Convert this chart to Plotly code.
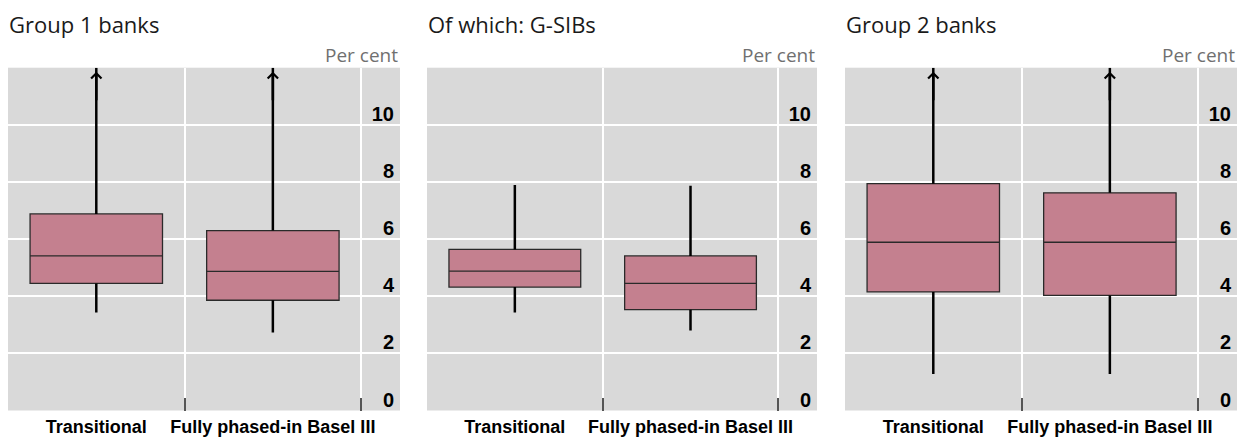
import plotly.graph_objects as go

# ---------------- data ----------------
categories = ["Transitional", "Fully phased-in Basel III"]
panel_titles = ["Group 1 banks", "Of which: G-SIBs", "Group 2 banks"]
y_tick_values = [0, 2, 4, 6, 8, 10]
unit_label = "Per cent"

# None = upper whisker runs beyond the chart scale (shown with an arrow)
g1_lower = [3.43, 2.73]
g1_q1 = [4.45, 3.86]
g1_median = [5.41, 4.87]
g1_q3 = [6.88, 6.30]
g1_upper = [None, None]

gsib_lower = [3.43, 2.80]
gsib_q1 = [4.32, 3.53]
gsib_median = [4.88, 4.45]
gsib_q3 = [5.64, 5.41]
gsib_upper = [7.89, 7.87]

g2_lower = [1.28, 1.28]
g2_q1 = [4.15, 4.03]
g2_median = [5.89, 5.89]
g2_q3 = [7.94, 7.62]
g2_upper = [None, None]

panels = [
    (g1_lower, g1_q1, g1_median, g1_q3, g1_upper),
    (gsib_lower, gsib_q1, gsib_median, gsib_q3, gsib_upper),
    (g2_lower, g2_q1, g2_median, g2_q3, g2_upper),
]

# ---------------- styling / layout ----------------
W, H = 1250, 441
OFF = 8  # page body margin
Y_MAX = 12
BOX_FILL = "#C4808F"
BOX_LINE = "#2a2a2a"
BG = "#D9D9D9"
panel_px = [(8 - OFF, 400 - OFF), (427 - OFF, 817 - OFF), (845 - OFF, 1237 - OFF)]
plot_top_px, plot_bottom_px = 67.7 - OFF, 410.5 - OFF
y_dom = [(H - plot_bottom_px) / H, (H - plot_top_px) / H]
X_FONT = dict(family="Liberation Sans, Arial", size=18, color="black",
              weight="bold")
Y_FONT = dict(family="Liberation Sans, Arial", size=20, color="black",
              weight="bold")

fig = go.Figure()
annotations = []

for i, (lo, q1, med, q3, up) in enumerate(panels):
    n = "" if i == 0 else str(i + 1)
    xa, ya = "x" + n, "y" + n
    # box body
    fig.add_trace(go.Box(
        x=categories, q1=q1, median=med, q3=q3,
        lowerfence=q1, upperfence=q3,
        width=0.75, whiskerwidth=0,
        fillcolor=BOX_FILL, line=dict(color=BOX_LINE, width=1.3),
        boxpoints=False, xaxis=xa, yaxis=ya, showlegend=False,
        hoverinfo="skip",
    ))
    # whiskers
    wx, wy = [], []
    for c, l, a, b, u in zip(categories, lo, q1, q3, up):
        top = u if u is not None else Y_MAX
        wx += [c, c, None, c, c, None]
        wy += [l, a, None, b, top, None]
    fig.add_trace(go.Scatter(
        x=wx, y=wy, mode="lines", line=dict(color="black", width=2.5),
        xaxis=xa, yaxis=ya, showlegend=False, hoverinfo="skip",
    ))
    # arrows for off-scale whiskers
    for c, u in zip(categories, up):
        if u is None:
            annotations.append(dict(
                x=c, y=Y_MAX - 0.14, xref=xa, yref=ya, ax=0, ay=30,
                text="", showarrow=True, arrowhead=4, arrowsize=0.8,
                arrowwidth=2.5, arrowcolor="black", standoff=0,
            ))

    x0, x1 = panel_px[i]
    dom = [x0 / W, x1 / W]
    xkey = "xaxis" + n
    ykey = "yaxis" + n
    fig.layout[xkey] = dict(
        domain=dom, anchor=ya, type="category",
        categoryorder="array", categoryarray=categories,
        range=[-0.5, 1.72], tickson="boundaries",
        showgrid=True, gridcolor="white", gridwidth=1.5,
        ticks="inside", ticklen=13, tickwidth=1.5, tickcolor="#555555",
        showline=False, zeroline=False, tickangle=0, automargin=False,
        ticklabelstandoff=3,
        tickfont=X_FONT, fixedrange=True,
    )
    fig.layout[ykey] = dict(
        domain=y_dom, anchor=xa, side="right", range=[0, Y_MAX],
        tickvals=y_tick_values, ticktext=[str(v) for v in y_tick_values],
        ticklabelposition="inside top", automargin=False,
        ticklabelstandoff=3, ticklabelshift=3,
        showgrid=True, gridcolor="white", gridwidth=1.5,
        ticks="", showline=False, zeroline=False,
        tickfont=Y_FONT, fixedrange=True,
    )
    # small ticks on the left edge
    fig.layout["yaxis" + str(i + 4)] = dict(
        domain=y_dom, anchor=xa, overlaying=ya, side="left", range=[0, Y_MAX],
        tickvals=y_tick_values[1:], showticklabels=False, showgrid=False,
        ticks="outside", ticklen=2, tickwidth=1, tickcolor="#333333",
        showline=False, zeroline=False, fixedrange=True, automargin=False,
    )
    # panel title
    annotations.append(dict(
        x=x0 / W, y=1.0, xref="paper", yref="paper",
        xanchor="left", yanchor="top", showarrow=False,
        text=panel_titles[i], borderpad=0,
        font=dict(family="Open Sans", size=22, color="#1a1a1a"),
    ))
    # unit label
    annotations.append(dict(
        x=x1 / W, y=1 - (55 - OFF) / H, xref="paper", yref="paper",
        xanchor="right", yanchor="middle", showarrow=False,
        text=unit_label,
        font=dict(family="Open Sans", size=19, color="#707070"),
    ))

fig.update_layout(
    width=W, height=H, autosize=False,
    margin=dict(l=0, r=0, t=0, b=0, pad=0, autoexpand=False),
    paper_bgcolor="white", plot_bgcolor=BG,
    annotations=annotations, showlegend=False,
)

fig.write_html("out.html")
